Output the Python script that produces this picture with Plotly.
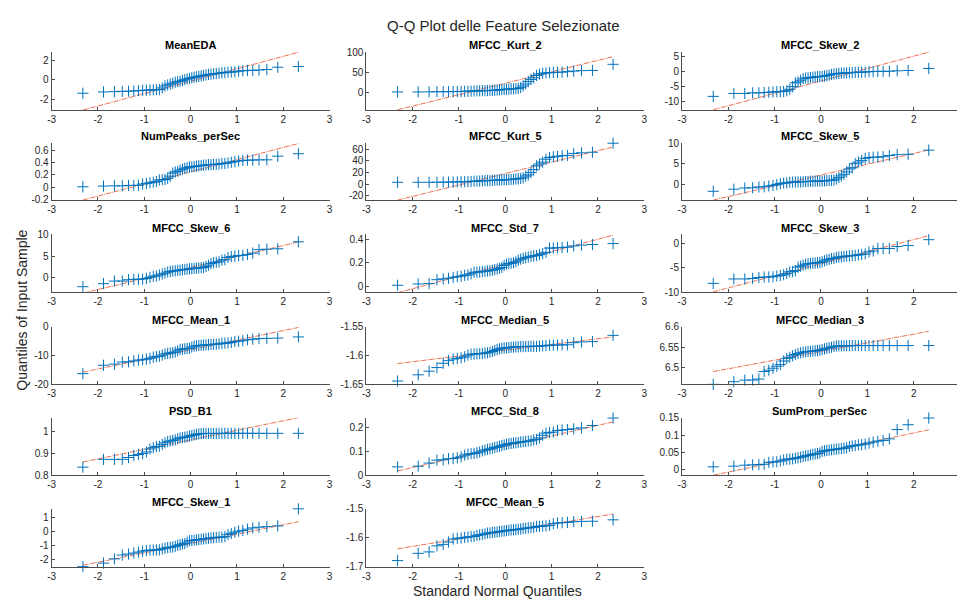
import plotly.graph_objects as go

# Theoretical standard normal quantiles for n=50 ((i-0.5)/n)
Q_NEG = [-2.326348, -1.880794, -1.644854, -1.475791, -1.340755, -1.226528, -1.126391,
         -1.036433, -0.954165, -0.877896, -0.806421, -0.738847, -0.674490, -0.612813,
         -0.553385, -0.495850, -0.439913, -0.385320, -0.331853, -0.279319, -0.227545,
         -0.176374, -0.125661, -0.075270, -0.025069]
Q = Q_NEG + [-v for v in reversed(Q_NEG)]

titles = ["MeanEDA", "MFCC_Kurt_2", "MFCC_Skew_2",
          "NumPeaks_perSec", "MFCC_Kurt_5", "MFCC_Skew_5",
          "MFCC_Skew_6", "MFCC_Std_7", "MFCC_Skew_3",
          "MFCC_Mean_1", "MFCC_Median_5", "MFCC_Median_3",
          "PSD_B1", "MFCC_Std_8", "SumProm_perSec",
          "MFCC_Skew_1", "MFCC_Mean_5"]

MeanEDA = [-1.33,-1.2,-1.17,-1.14,-1.13,-1.1,-1.07,-1.04,-1.03,-1.0,-0.99,-0.97,-0.96,-0.8,-0.6,-0.5,-0.4,-0.33,-0.22,-0.16,-0.13,-0.04,0.03,0.1,0.16,0.22,0.28,0.32,0.36,0.42,0.46,0.5,0.55,0.58,0.62,0.65,0.68,0.72,0.74,0.78,0.8,0.82,0.88,0.93,0.96,0.97,1.0,1.05,1.28,1.35]
MFCC_Kurt_2 = [2.4,2.4,2.5,3,3,3,3.2,3.4,3.6,3.8,4,4.2,4.8,5,5.2,5.3,5.5,5.7,6,6.2,6.5,7,7.5,8,8.5,9,9.5,10,10,10.5,11,13,17,22,28,33,37,42.6,46,48,49,49.5,50,50.5,51,52,53.5,54.5,55,70]
MFCC_Skew_2 = [-8.4,-7.4,-7.4,-7.2,-7.2,-7.1,-7.0,-6.9,-6.8,-6.8,-6.7,-6.5,-6.0,-5.1,-3.8,-3.5,-2.9,-2.4,-2.2,-2.1,-2.0,-1.9,-1.8,-1.7,-1.65,-1.6,-1.5,-1.35,-1.15,-0.9,-0.8,-0.7,-0.6,-0.5,-0.45,-0.4,-0.35,-0.31,-0.25,-0.2,-0.15,-0.1,0.0,0.05,0.1,0.12,0.15,0.3,0.4,1.1]
NumPeaks_perSec = [0.005,0.016,0.02,0.02,0.027,0.027,0.03,0.05,0.06,0.07,0.08,0.09,0.117,0.12,0.125,0.145,0.18,0.23,0.25,0.26,0.28,0.295,0.31,0.32,0.33,0.335,0.34,0.345,0.35,0.355,0.36,0.365,0.37,0.37,0.375,0.375,0.38,0.388,0.39,0.40,0.41,0.42,0.43,0.44,0.445,0.445,0.45,0.45,0.51,0.55]
MFCC_Kurt_5 = [3.3,3.3,3.3,3.4,3.5,3.6,3.8,4,4.1,4.3,4.5,4.8,5.1,5.3,5.5,5.7,6,6.2,6.4,6.6,6.8,7,7.2,7.4,7.6,7.8,8,8.3,8.6,9,9.5,10,11,14,16,20,25,31.6,35,38,43,46,47,48,49,49.5,53,54,55,70.5]
MFCC_Skew_5 = [-1.75,-1.25,-0.95,-0.9,-0.7,-0.65,-0.45,-0.3,-0.1,0.15,0.25,0.3,0.45,0.5,0.5,0.55,0.55,0.6,0.62,0.65,0.7,0.7,0.72,0.72,0.75,0.78,0.8,0.85,0.9,0.95,1.0,1.25,1.6,2.0,2.4,3.0,3.7,4.0,5.0,5.4,5.8,6.3,6.5,6.6,6.6,6.7,7.0,7.2,7.3,8.3]
MFCC_Skew_6 = [-2.0,-1.3,-0.7,-0.7,-0.4,-0.3,-0.3,-0.25,-0.1,0.15,0.4,0.45,0.7,0.9,1.1,1.35,1.5,1.6,1.65,1.75,1.8,1.9,1.95,2.0,2.1,2.15,2.2,2.25,2.3,2.35,2.4,2.65,2.95,3.3,3.5,3.6,3.7,4.1,4.2,4.7,4.9,5.0,5.15,5.2,5.4,5.7,6.5,6.6,6.7,8.3]
MFCC_Std_7 = [0.013,0.024,0.027,0.06,0.067,0.072,0.08,0.085,0.09,0.097,0.10,0.11,0.122,0.123,0.125,0.128,0.13,0.133,0.136,0.14,0.145,0.15,0.155,0.163,0.18,0.19,0.195,0.197,0.203,0.21,0.224,0.232,0.24,0.245,0.25,0.256,0.26,0.262,0.27,0.278,0.29,0.325,0.325,0.328,0.33,0.333,0.343,0.35,0.355,0.363]
MFCC_Skew_3 = [-8.2,-7.3,-7.3,-7.2,-7.0,-6.9,-6.9,-6.85,-6.7,-6.6,-6.45,-6.2,-5.86,-5.8,-5.6,-4.9,-4.7,-4.5,-4.3,-4.2,-4.15,-4.1,-4.05,-4.0,-3.95,-3.8,-3.6,-3.4,-3.3,-3.15,-3.1,-2.9,-2.85,-2.8,-2.7,-2.65,-2.6,-2.54,-2.5,-2.4,-2.3,-2.2,-1.8,-1.6,-1.1,-1.1,-1.1,-0.7,-0.5,0.7]
MFCC_Mean_1 = [-16.3,-13.4,-13.0,-12.3,-12.2,-11.9,-11.6,-11.5,-11.3,-11.0,-10.6,-10.4,-10.29,-9.9,-9.5,-9.3,-9.15,-9.05,-8.8,-8.4,-7.9,-7.8,-7.7,-7.6,-7.55,-7.1,-6.8,-6.7,-6.55,-6.5,-6.45,-6.35,-6.3,-6.2,-6.15,-6.1,-6.0,-5.81,-5.75,-5.7,-5.5,-5.2,-5.1,-4.9,-4.6,-4.4,-4.2,-4.1,-4.0,-3.6]
MFCC_Median_5 = [-1.6443,-1.6335,-1.6273,-1.621,-1.6136,-1.609,-1.6063,-1.6051,-1.604,-1.6023,-1.5994,-1.5980,-1.5977,-1.5972,-1.597,-1.5966,-1.596,-1.5955,-1.5943,-1.5932,-1.5915,-1.5898,-1.5886,-1.5875,-1.5873,-1.587,-1.5864,-1.5858,-1.5856,-1.5852,-1.585,-1.5847,-1.5846,-1.5845,-1.5844,-1.5843,-1.5843,-1.5843,-1.5838,-1.5835,-1.583,-1.5824,-1.5822,-1.582,-1.5818,-1.5815,-1.578,-1.5767,-1.5761,-1.5653]
MFCC_Median_3 = [6.4603,6.4667,6.4706,6.4706,6.473,6.4913,6.4944,6.4992,6.504,6.508,6.5167,6.523,6.5256,6.5294,6.5325,6.5349,6.5365,6.538,6.5389,6.5397,6.54,6.5405,6.5413,6.542,6.5429,6.5444,6.546,6.5476,6.5484,6.55,6.5516,6.553,6.5532,6.5533,6.5534,6.5535,6.5537,6.5538,6.554,6.554,6.554,6.554,6.554,6.554,6.554,6.554,6.554,6.554,6.554,6.554]
PSD_B1 = [0.8375,0.8726,0.8726,0.8726,0.881,0.89,0.8946,0.899,0.906,0.919,0.925,0.93,0.9315,0.94,0.947,0.952,0.955,0.958,0.96,0.965,0.969,0.971,0.972,0.974,0.977,0.98,0.982,0.985,0.987,0.988,0.989,0.989,0.989,0.989,0.989,0.989,0.989,0.9893,0.9895,0.9895,0.9895,0.9895,0.9895,0.9895,0.9895,0.9895,0.9895,0.9895,0.9895,0.9895]
MFCC_Std_8 = [0.036,0.039,0.052,0.064,0.066,0.07,0.071,0.074,0.078,0.085,0.089,0.091,0.0917,0.095,0.098,0.103,0.106,0.109,0.111,0.114,0.117,0.119,0.122,0.125,0.1275,0.13,0.133,0.134,0.1355,0.137,0.138,0.14,0.141,0.142,0.144,0.145,0.149,0.1511,0.157,0.168,0.177,0.18,0.181,0.188,0.19,0.192,0.195,0.199,0.209,0.24]
SumProm_perSec = [0.0083,0.0102,0.013,0.0139,0.0148,0.0157,0.0213,0.0222,0.023,0.025,0.0278,0.0302,0.0306,0.0315,0.0333,0.0343,0.036,0.038,0.04,0.0407,0.0426,0.0444,0.0454,0.0463,0.048,0.0528,0.0546,0.0556,0.0565,0.0574,0.0583,0.0593,0.06,0.061,0.062,0.063,0.0667,0.0686,0.0694,0.0713,0.0722,0.074,0.0768,0.0796,0.0824,0.0843,0.0889,0.1157,0.1296,0.149]
MFCC_Skew_1 = [-2.49,-2.24,-1.94,-1.67,-1.6,-1.53,-1.46,-1.39,-1.35,-1.32,-1.315,-1.305,-1.30,-1.23,-1.19,-1.14,-1.12,-1.1,-1.05,-0.98,-0.94,-0.89,-0.85,-0.75,-0.66,-0.64,-0.62,-0.6,-0.57,-0.55,-0.53,-0.5,-0.48,-0.46,-0.44,-0.42,-0.41,-0.407,-0.37,-0.23,-0.14,-0.05,0.02,0.07,0.16,0.25,0.3,0.34,0.39,1.6]
MFCC_Mean_5 = [-1.679,-1.654,-1.649,-1.628,-1.623,-1.615,-1.6045,-1.602,-1.601,-1.599,-1.5975,-1.596,-1.5956,-1.592,-1.59,-1.589,-1.5865,-1.584,-1.583,-1.582,-1.581,-1.58,-1.5785,-1.5775,-1.5765,-1.575,-1.574,-1.573,-1.5725,-1.572,-1.5705,-1.5695,-1.568,-1.567,-1.566,-1.565,-1.564,-1.5608,-1.5605,-1.5595,-1.559,-1.557,-1.5515,-1.549,-1.548,-1.547,-1.5445,-1.5435,-1.543,-1.538]

samples = [MeanEDA, MFCC_Kurt_2, MFCC_Skew_2, NumPeaks_perSec, MFCC_Kurt_5, MFCC_Skew_5,
           MFCC_Skew_6, MFCC_Std_7, MFCC_Skew_3, MFCC_Mean_1, MFCC_Median_5, MFCC_Median_3,
           PSD_B1, MFCC_Std_8, SumProm_perSec, MFCC_Skew_1, MFCC_Mean_5]

# y-axis limits and tick steps per panel
y_ranges = [[-3.0, 2.8], [-41.6, 100], [-13, 6.67], [-0.215, 0.724], [-27.3, 70.5], [-3.9, 10],
            [-3.26, 10], [-0.045, 0.44], [-10, 1.78], [-20, 0], [-1.65, -1.55], [6.4603, 6.6],
            [0.8, 1.06], [0, 0.2416], [-0.0167, 0.15], [-2.49, 1.6], [-1.7, -1.5]]
y_dticks = [2, 50, 5, 0.2, 20, 5, 5, 0.2, 5, 10, 0.05, 0.05, 0.1, 0.1, 0.05, 1, 0.1]

W, H = 960, 605
col_px = [(48, 328), (365, 645), (683, 960)]
row_px = [(47, 106), (140, 198), (233, 292), (327, 386), (420, 479), (513, 572)]

BLUE = "#0072BD"
AXC = "#4d4d4d"
TXT = "#262626"
FONT = "Liberation Sans, Arial, Helvetica, sans-serif"

fig = go.Figure()
layout = dict(width=W, height=H, margin=dict(l=0, r=0, t=0, b=0), autosize=False,
              paper_bgcolor="white", plot_bgcolor="white", showlegend=False,
              font=dict(family=FONT, color=TXT, size=10))
annotations = []


def make_ticks(lo, hi, step):
    import math
    k = math.ceil(lo / step - 1e-9)
    vals = []
    while k * step <= hi + 1e-9:
        vals.append(round(k * step, 6))
        k += 1
    return vals, [("%g" % v) for v in vals]


for i, (name, ys) in enumerate(zip(titles, samples)):
    assert len(ys) == 50, name
    r, c = divmod(i, 3)
    n = i + 1
    xa = "x" if n == 1 else f"x{n}"
    ya = "y" if n == 1 else f"y{n}"
    # reference line through the first and third quartiles
    q1, q3 = ys[12], ys[37]
    slope = (q3 - q1) / (Q[37] - Q[12])
    mid = (q1 + q3) / 2
    lx = [Q[0], Q[-1]]
    ly = [mid + slope * v for v in lx]
    fig.add_trace(go.Scatter(x=lx, y=ly, mode="lines", xaxis=xa, yaxis=ya,
                             line=dict(color="rgb(236,112,80)", width=1, dash="5px,1px,1px,1px"),
                             hoverinfo="skip"))
    fig.add_trace(go.Scatter(x=Q, y=ys, mode="markers", xaxis=xa, yaxis=ya, cliponaxis=False,
                             marker=dict(symbol="cross-thin-open", size=8,
                                         line=dict(color=BLUE, width=1), color=BLUE),
                             name=name))
    x0, x1 = col_px[c]
    top, bot = row_px[r]
    xr = [-3, 3] if c < 2 else [-3, 3 - (963 - 960) / 46.6]
    xt = list(range(-3, 4)) if c < 2 else list(range(-3, 3))
    yv, ytxt = make_ticks(y_ranges[i][0], y_ranges[i][1], y_dticks[i])
    common = dict(showline=True, linecolor=AXC, linewidth=1, ticks="inside", ticklen=3,
                  tickcolor=AXC, showgrid=False, zeroline=False,
                  tickfont=dict(family=FONT, size=10, color=TXT))
    layout["xaxis" if n == 1 else f"xaxis{n}"] = dict(
        domain=[x0 / W, x1 / W], range=xr, anchor=ya, tickvals=xt,
        ticktext=[str(v) for v in xt], **common)
    layout["yaxis" if n == 1 else f"yaxis{n}"] = dict(
        domain=[1 - bot / H, 1 - top / H], range=y_ranges[i], anchor=xa,
        tickvals=yv, ticktext=ytxt, **common)
    annotations.append(dict(text=f"<b>{name}</b>", x=(x0 + x1) / 2 / W, y=1 - (top - 7) / H,
                            xref="paper", yref="paper", xanchor="center", yanchor="middle",
                            showarrow=False, font=dict(family=FONT, size=11, color="black")))

annotations.append(dict(text="Q-Q Plot delle Feature Selezionate", x=503 / W, y=1 - 20 / H,
                        xref="paper", yref="paper", xanchor="center", yanchor="middle",
                        showarrow=False, font=dict(family=FONT, size=15, color=TXT)))
annotations.append(dict(text="Standard Normal Quantiles", x=497 / W, y=1 - 597 / H,
                        xref="paper", yref="paper", xanchor="center", yanchor="middle",
                        showarrow=False, font=dict(family=FONT, size=14, color=TXT)))
annotations.append(dict(text="Quantiles of Input Sample", x=18 / W, y=1 - 310 / H,
                        xref="paper", yref="paper", xanchor="center", yanchor="middle",
                        textangle=-90, showarrow=False, font=dict(family=FONT, size=14, color=TXT)))
layout["annotations"] = annotations
fig.update_layout(**layout)
fig.write_html("out.html", config={"displayModeBar": False},
               post_script="document.body.style.margin='0';document.body.style.overflow='hidden';")
